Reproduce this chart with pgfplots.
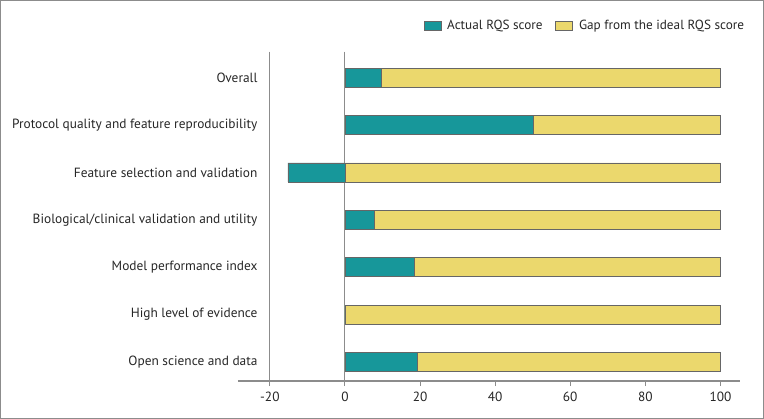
\documentclass[border=0pt]{standalone}
\usepackage{fontspec}
\setmainfont{PT Sans}
\usepackage{pgfplots}
\usepackage{pgfplotstable}
\pgfplotsset{compat=1.18}
\definecolor{tealbar}{HTML}{17979A}
\definecolor{yelbar}{HTML}{EBD86D}
\definecolor{axgray}{HTML}{8C8C8C}
\pgfplotstableread{
idx actual total
0 9.8 100
1 50.1 100
2 -15.2 100
3 7.7 100
4 18.4 100
5 0 100
6 19.2 100
}\rqsdata
\begin{document}
\begin{tikzpicture}
\begin{axis}[
  at={(0,0)}, anchor=south west,
  scale only axis, width=376.5pt, height=246.75pt,
  xmin=-28.53, xmax=105.33, ymin=-0.55, ymax=6.4, y dir=reverse,
  xbar, bar width=14.25pt, bar shift=0pt,
  axis x line*=bottom, axis y line*=left,
  x axis line style={axgray, line width=0.8pt, -},
  y axis line style={draw=none},
  xtick={-20,0,20,40,60,80,100}, ytick={0,1,2,3,4,5,6},
  yticklabels={Overall, Protocol quality and feature reproducibility, Feature selection and validation, Biological/clinical validation and utility, Model performance index, High level of evidence, Open science and data},
  ytick style={draw=none},
  xtick style={axgray, line width=0.8pt},
  tick align=outside, major tick length=3.75pt,
  tick label style={font=\fontsize{10}{12}\selectfont, text=black!85},
  /pgf/number format/assume math mode=true,
  yticklabel style={anchor=east, xshift=22pt},
  xticklabel style={yshift=-1pt},
  legend columns=2,
  reverse legend,
  legend style={draw=none, fill=none, at={(axis description cs:1.021,1.079)}, anchor=east,
    font=\fontsize{9.9}{12}\selectfont, text=black!85,
    /tikz/every odd column/.append style={column sep=2.5pt},
    /tikz/every even column/.append style={column sep=7.5pt}},
  clip=false,
]
\draw[axgray, line width=0.8pt] (axis cs:-20,-0.55) -- (axis cs:-20,6.4);
\draw[axgray, line width=0.8pt] (axis cs:0,-0.55) -- (axis cs:0,6.4);
\addplot[fill=yelbar, draw=black!60, line width=0.5pt,
  legend image code/.code={\draw[fill=yelbar, draw=black!60, line width=0.5pt] (0pt,-3.2pt) rectangle (12.75pt,3.2pt);}]
  table[x=total, y=idx]{\rqsdata};
\addplot[fill=tealbar, draw=black!60, line width=0.5pt,
  legend image code/.code={\draw[fill=tealbar, draw=black!60, line width=0.5pt] (0pt,-3.2pt) rectangle (12.75pt,3.2pt);}]
  table[x=actual, y=idx]{\rqsdata};
\legend{Gap from the ideal RQS score, Actual RQS score}
\end{axis}
\draw[axgray, line width=0.8pt] (-177.75pt,-27.75pt) rectangle (393.75pt,285pt);
\end{tikzpicture}
\end{document}
